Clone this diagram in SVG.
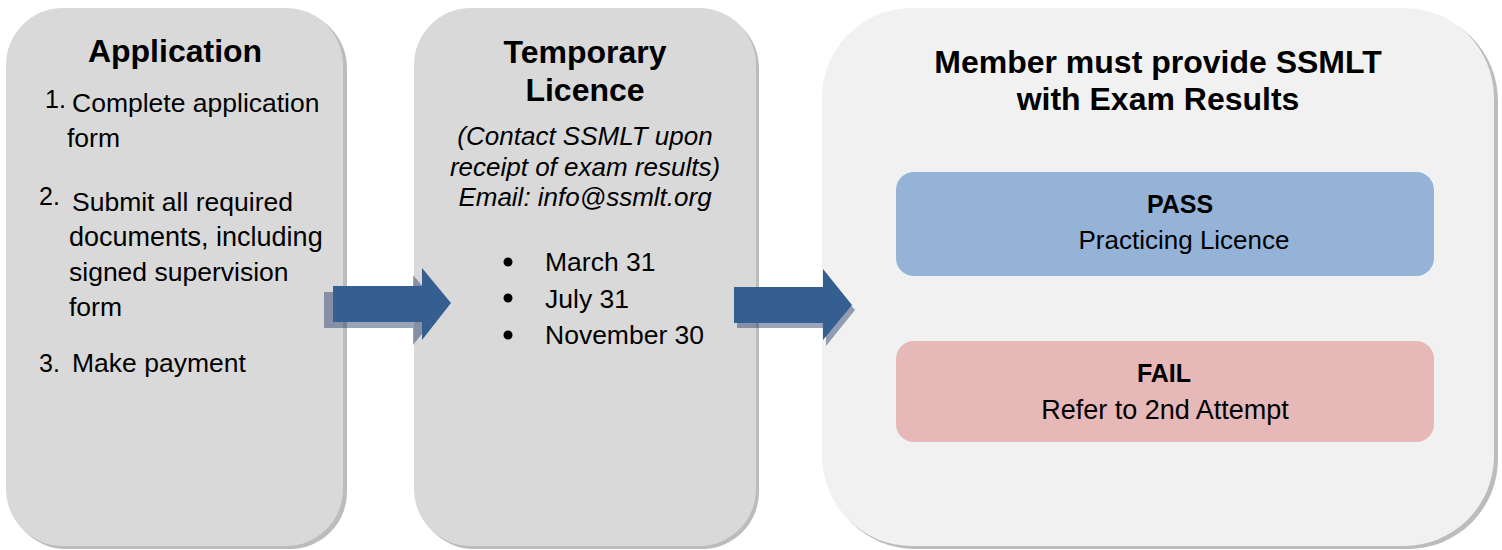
<svg xmlns="http://www.w3.org/2000/svg" width="1502" height="550" viewBox="0 0 1502 550">
<style>
.sh{fill:#bcbcbc}
.bx{fill:#d9d9d9}
.bx3{fill:#f1f1f1}
.t{font-family:"Liberation Sans",Arial,sans-serif;font-weight:bold;font-size:32px;fill:#000;text-anchor:middle}
.b{font-family:"Liberation Sans",Arial,sans-serif;font-size:26.5px;fill:#000}
.i{font-family:"Liberation Sans",Arial,sans-serif;font-style:italic;font-size:26px;fill:#000;text-anchor:middle}
.sb{font-family:"Liberation Sans",Arial,sans-serif;font-weight:bold;font-size:25px;fill:#000;text-anchor:middle}
.sm{font-family:"Liberation Sans",Arial,sans-serif;font-size:26px;fill:#000;text-anchor:middle}
.ar{fill:#365f91}
.as{fill:#1f3864;opacity:0.45}
</style>
<rect width="1502" height="550" fill="#ffffff"/>
<g id="application">
<rect class="sh" x="9" y="11" width="338" height="538" rx="57" ry="57"/>
<rect class="bx" x="6" y="8" width="337" height="538" rx="57" ry="57"/>
<text class="t" x="175" y="62">Application</text>
<text class="b" x="45" y="108" style="font-size:25px">1.</text>
<text class="b" x="72" y="112">Complete application</text>
<text class="b" x="67" y="147">form</text>
<text class="b" x="39" y="205" style="font-size:25px">2.</text>
<text class="b" x="72" y="211">Submit all required</text>
<text class="b" x="69" y="246" style="font-size:27px">documents, including</text>
<text class="b" x="69" y="281">signed supervision</text>
<text class="b" x="69" y="316">form</text>
<text class="b" x="39" y="372" style="font-size:25px">3.</text>
<text class="b" x="72" y="372">Make payment</text>
</g>
<g id="temporary-licence">
<rect class="sh" x="417" y="11" width="342" height="538" rx="57" ry="57"/>
<rect class="bx" x="414" y="8" width="342" height="538" rx="57" ry="57"/>
<text class="t" x="585" y="63">Temporary</text>
<text class="t" x="585" y="101">Licence</text>
<text class="i" x="585" y="145">(Contact SSMLT upon</text>
<text class="i" x="585" y="176">receipt of exam results)</text>
<text class="i" x="585" y="206">Email: info@ssmlt.org</text>
<circle cx="508" cy="262" r="4.5" fill="#000"/>
<circle cx="508" cy="298" r="4.5" fill="#000"/>
<circle cx="508" cy="335" r="4.5" fill="#000"/>
<text class="b" x="545" y="271">March 31</text>
<text class="b" x="545" y="308">July 31</text>
<text class="b" x="545" y="344">November 30</text>
</g>
<g id="exam-results">
<rect class="sh" x="825" y="11" width="673" height="538" rx="90" ry="90"/>
<rect class="bx3" x="822" y="8" width="672" height="538" rx="90" ry="90"/>
<text class="t" x="1158" y="73">Member must provide SSMLT</text>
<text class="t" x="1158" y="110">with Exam Results</text>
</g>
<g id="pass">
<rect x="896" y="172" width="538" height="104" rx="18" ry="18" fill="#95b3d7"/>
<text class="sb" x="1180" y="213">PASS</text>
<text class="sm" x="1184" y="249">Practicing Licence</text>
</g>
<g id="fail">
<rect x="896" y="341" width="538" height="101" rx="18" ry="18" fill="#e6b8b7"/>
<text class="sb" x="1164" y="382">FAIL</text>
<text class="sm" x="1165" y="419" style="font-size:27px">Refer to 2nd Attempt</text>
</g>
<g id="connectors">
<polygon class="as" points="324,292 413,292 413,275 442,309 413,345 413,328 324,328"/>
<polygon class="ar" points="333,286 422,286 422,268 451,303 422,340 422,322 333,322"/>
<polygon class="as" points="737,292 826,292 826,275 855,310 826,346 826,328 737,328"/>
<polygon class="ar" points="734,287 823,287 823,269 852,305 823,340 823,323 734,323"/>
</g>
</svg>
